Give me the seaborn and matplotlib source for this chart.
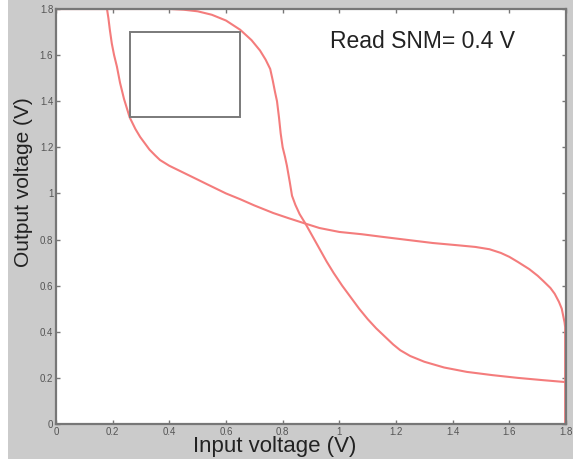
import numpy as np
import pandas as pd
import matplotlib
matplotlib.use("Agg")
import matplotlib.pyplot as plt
import seaborn as sns
from matplotlib.patches import Rectangle

# Curve A: inverter 1 transfer characteristic
curve_a_x = [0.0, 0.18, 0.185, 0.19, 0.197, 0.205, 0.215, 0.226, 0.24, 0.26, 0.28, 0.297,
             0.315, 0.33, 0.35, 0.367, 0.40, 0.45, 0.50, 0.533, 0.60, 0.65, 0.70, 0.767,
             0.82, 0.873, 0.93, 1.0, 1.08, 1.15, 1.25, 1.33, 1.42, 1.48, 1.53, 1.57, 1.60, 1.63,
             1.67, 1.70, 1.72, 1.745, 1.76, 1.775, 1.785, 1.79, 1.795, 1.797, 1.797]
curve_a_y = [1.8, 1.8, 1.76, 1.71, 1.65, 1.60, 1.55, 1.48, 1.41, 1.33, 1.28, 1.245,
             1.215, 1.19, 1.165, 1.145, 1.12, 1.09, 1.06, 1.04, 1.0, 0.975, 0.948, 0.915,
             0.893, 0.872, 0.85, 0.833, 0.823, 0.812, 0.797, 0.785, 0.775, 0.768, 0.758, 0.742, 0.725, 0.703,
             0.672, 0.643, 0.62, 0.59, 0.565, 0.53, 0.50, 0.47, 0.44, 0.42, 0.0]

# Curve B: inverter 2 transfer characteristic (mirrored)
curve_b_x = [0.0, 0.40, 0.45, 0.50, 0.55, 0.60, 0.65, 0.69, 0.72, 0.74, 0.756, 0.765,
             0.773, 0.78, 0.787, 0.793, 0.80, 0.808, 0.815, 0.825, 0.833, 0.845, 0.86,
             0.88, 0.905, 0.93, 0.955, 0.98, 1.01, 1.04, 1.07, 1.10, 1.13, 1.16, 1.19,
             1.215, 1.25, 1.30, 1.37, 1.45, 1.54, 1.63, 1.72, 1.797]
curve_b_y = [1.8, 1.8, 1.797, 1.79, 1.775, 1.75, 1.71, 1.665, 1.62, 1.58, 1.54, 1.49,
             1.44, 1.40, 1.33, 1.26, 1.20, 1.16, 1.12, 1.05, 0.99, 0.95, 0.91,
             0.87, 0.815, 0.76, 0.705, 0.655, 0.60, 0.55, 0.50, 0.455, 0.415, 0.38, 0.345,
             0.32, 0.295, 0.27, 0.245, 0.226, 0.212, 0.20, 0.19, 0.182]

# SNM box
box_x = [0.26, 0.65]
box_y = [1.33, 1.70]

x_ticks = [0, 0.2, 0.4, 0.6, 0.8, 1.0, 1.2, 1.4, 1.6, 1.8]
x_tick_labels = ["0", "0.2", "0.4", "0.6", "0.8", "1", "1.2", "1.4", "1.6", "1.8"]
y_ticks = [0, 0.2, 0.4, 0.6, 0.8, 1.0, 1.2, 1.4, 1.6, 1.8]
y_tick_labels = ["0", "0.2", "0.4", "0.6", "0.8", "1", "1.2", "1.4", "1.6", "1.8"]

annotation = "Read SNM= 0.4 V"

sns.set_style("white")
plt.rcParams['font.family'] = ['Liberation Sans', 'DejaVu Sans']

fig = plt.figure(figsize=(5.73, 4.59), dpi=100, facecolor="#cbcbcb")
fig.patches.append(Rectangle((0, 0), 8 / 573, 1, transform=fig.transFigure,
                             facecolor="white", edgecolor="none", zorder=0))
ax = fig.add_axes([56 / 573, 35 / 459, 510 / 573, 415 / 459])
ax.set_facecolor("white")

df_a = pd.DataFrame({"x": curve_a_x, "y": curve_a_y})
df_b = pd.DataFrame({"x": curve_b_x, "y": curve_b_y})
red = "#f47c7c"
sns.lineplot(data=df_a, x="x", y="y", sort=False, estimator=None, color=red, lw=1.5, ax=ax)
sns.lineplot(data=df_b, x="x", y="y", sort=False, estimator=None, color=red, lw=1.5, ax=ax)

ax.add_patch(Rectangle((box_x[0], box_y[0]), box_x[1] - box_x[0], box_y[1] - box_y[0],
                       fill=False, edgecolor="#7a7a7a", lw=1.4, zorder=3))

ax.text(0.968, 1.657, annotation, fontsize=16.5, color="#222222", va="center", ha="left")

ax.set_xlim(0, 1.8)
ax.set_ylim(0, 1.8)
ax.set_xticks(x_ticks)
ax.set_xticklabels(x_tick_labels)
ax.set_yticks(y_ticks)
ax.set_yticklabels(y_tick_labels)
ax.tick_params(direction="in", length=3, width=1, colors="#777777", labelsize=7,
               labelcolor="#555555", top=True, right=True, bottom=True, left=True, pad=2)
for s in ax.spines.values():
    s.set_color("#777777")
    s.set_linewidth(1.6)
    s.set_visible(True)

ax.set_xlabel("Input voltage (V)", fontsize=16, color="#222222")
ax.set_ylabel("Output voltage (V)", fontsize=15, color="#222222")
ax.xaxis.set_label_coords(0.429, -0.030)
ax.yaxis.set_label_coords(-0.045, 0.583)

fig.savefig("out.png", dpi=100, facecolor=fig.get_facecolor())
